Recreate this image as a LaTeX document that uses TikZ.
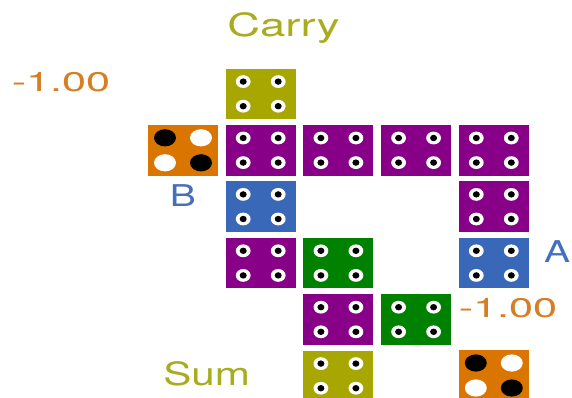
\documentclass[tikz,border=0pt]{standalone}
\usepackage{fontspec}
\setmainfont{TeX Gyre Heros}
\usetikzlibrary{positioning,calc}
\definecolor{olivetile}{RGB}{168,166,0}
\definecolor{purpletile}{RGB}{136,0,136}
\definecolor{bluetile}{RGB}{58,104,184}
\definecolor{greentile}{RGB}{0,130,0}
\definecolor{orangetile}{RGB}{218,118,0}
\definecolor{olivetext}{RGB}{168,172,30}
\definecolor{orangetext}{RGB}{214,126,36}
\definecolor{bluetext}{RGB}{70,110,190}

\begin{document}
\begin{tikzpicture}[
    x=1pt, y=-1pt,
    tile/.style={rectangle, minimum width=70pt, minimum height=50.5pt, inner sep=0pt},
    olive/.style={tile, fill=olivetile},
    purple/.style={tile, fill=purpletile},
    blue/.style={tile, fill=bluetile},
    green/.style={tile, fill=greentile},
    orange/.style={tile, fill=orangetile},
    lbl/.style={anchor=base, inner sep=0pt},
    node distance=5.5pt and 7.3pt
]
\useasboundingbox (0,0) rectangle (572,398);

% top row
\node[orange] (negB) at (183,150.3) {};
\node[purple, right=of negB] (p11) {};
\node[purple, right=of p11] (p12) {};
\node[purple, right=of p12] (p13) {};
\node[purple, right=of p13] (p14) {};
\node[olive, above=of p11] (cin) {};

% left diagonal
\node[blue, below=of p11] (bblk) {};
\node[purple, below=of bblk] (p31) {};
\node[green, right=of p31] (g32) {};
\node[purple, below=of g32] (p42) {};
\node[green, right=of p42] (g43) {};
\node[olive, below=of p42] (sum) {};

% right column
\node[purple, below=of p14] (p24) {};
\node[blue, below=of p24] (ablk) {};
\node[orange, below=61.5pt of ablk] (negA) {};

% small dots
\foreach \t in {cin,p11,p12,p13,p14,bblk,p24,p31,g32,ablk,p42,g43,sum}
  \foreach \dx/\dy in {-17.5/-12.3, 17.5/-12.3, -17.5/12.3, 17.5/12.3} {
    \fill[white] ($(\t.center)+(\dx,\dy)$) ellipse (7.4pt and 6.4pt);
    \fill[black] ($(\t.center)+(\dx,\dy)$) ellipse (3.5pt and 3.2pt);
  }

% big dots
\foreach \t in {negB,negA} {
  \fill[black] ($(\t.center)+(-18,-12.5)$) ellipse (11pt and 8.6pt);
  \fill[white] ($(\t.center)+(18,-12.5)$) ellipse (11pt and 8.6pt);
  \fill[white] ($(\t.center)+(-18,12.5)$) ellipse (11pt and 8.6pt);
  \fill[black] ($(\t.center)+(18,12.5)$) ellipse (11pt and 8.6pt);
}

% labels
\node[lbl, text=olivetext, font=\fontsize{32}{32}\selectfont] (carrylbl) at (283.5,36.7) {\scalebox{1.42}[1]{Carry}};
\node[lbl, text=olivetext, font=\fontsize{32}{32}\selectfont] (sumlbl) at (206.7,385) {\scalebox{1.32}[1]{Sum}};
\node[lbl, text=orangetext, font=\fontsize{27}{27}\selectfont] (negBlbl) at (61,92) {\scalebox{1.6}[1]{-1.00}};
\node[lbl, text=orangetext, font=\fontsize{27}{27}\selectfont] (negAlbl) at (508,317) {\scalebox{1.6}[1]{-1.00}};
\node[lbl, text=bluetext, font=\fontsize{30}{30}\selectfont] (Blbl) at (183,206) {\scalebox{1.3}[1]{B}};
\node[lbl, text=bluetext, font=\fontsize{30}{30}\selectfont] (Albl) at (557,262) {\scalebox{1.3}[1]{A}};
\end{tikzpicture}
\end{document}
